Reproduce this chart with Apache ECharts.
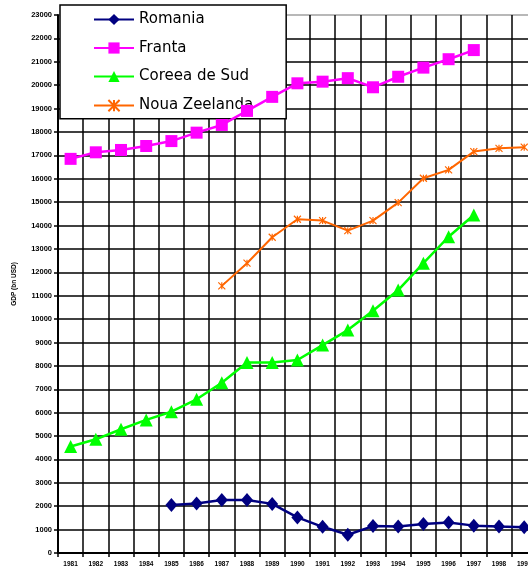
<!DOCTYPE html>
<html>
<head>
<meta charset="utf-8">
<script src="https://cdn.jsdelivr.net/npm/echarts@6/dist/echarts.min.js"></script>
<style>
  html, body { margin: 0; padding: 0; background: #fff; overflow: hidden; }
  #chart { width: 528px; height: 575px; }
</style>
</head>
<body>
<div id="chart"></div>
<script>
// Years on the category axis
const years = ['1981','1982','1983','1984','1985','1986','1987','1988','1989','1990',
               '1991','1992','1993','1994','1995','1996','1997','1998','1999','2000'];

// Y axis ticks (GDP)
const yMin = 0;
const yMax = 23000;
const yStep = 1000;

// Each series starts at its first reported year
const romaniaStart = '1985';
const romania = [2050, 2120, 2270, 2270, 2100, 1520, 1120, 780, 1150, 1130, 1240, 1300, 1170, 1130, 1100];

const frantaStart = '1981';
const franta = [16850, 17130, 17230, 17400, 17610, 17970, 18300, 18900, 19500, 20080, 20150, 20300, 19910, 20360, 20750, 21110, 21500];

const coreeaStart = '1981';
const coreea = [4550, 4860, 5290, 5690, 6040, 6570, 7280, 8140, 8140, 8250, 8890, 9530, 10360, 11240, 12390, 13520, 14450];

const zeelandaStart = '1987';
const zeelanda = [11420, 12390, 13500, 14270, 14210, 13780, 14210, 14980, 16020, 16380, 17160, 17300, 17350];

// Pad a series with nulls so it lines up with the year axis
function alignToYears(start, values) {
  const offset = years.indexOf(start);
  const out = years.map(() => null);
  values.forEach((v, i) => { out[offset + i] = v; });
  return out;
}

// Horizontal grid: black lines, the top border in grey
const nLines = (yMax - yMin) / yStep + 1;
const hLineColors = [];
for (let i = 0; i < nLines; i++) hLineColors.push(i === nLines - 1 ? '#a0a0a0' : '#000');

const chart = echarts.init(document.getElementById('chart'), null, { renderer: 'canvas' });

const tickFont = { fontFamily: 'Liberation Sans, Arial, sans-serif', fontWeight: 'bold', color: '#000' };

chart.setOption({
  backgroundColor: '#fff',
  animation: false,
  // plot area runs past the right edge of the canvas
  grid: { left: 58, top: 15, bottom: 22, width: 504, outerBoundsMode: 'none', containLabel: false },
  legend: {
    orient: 'vertical',
    left: 60,
    top: 5,
    padding: [7, 33, 5, 33],
    itemWidth: 40,
    itemHeight: 14,
    itemGap: 13.5,
    backgroundColor: '#fff',
    borderColor: '#000',
    borderWidth: 1.5,
    textStyle: { fontFamily: 'DejaVu Sans, sans-serif', fontSize: 15, lineHeight: 15, color: '#000' },
    data: ['Romania', 'Franta', 'Coreea de Sud', 'Noua Zeelanda']
  },
  xAxis: {
    type: 'category',
    data: years,
    boundaryGap: true,
    axisLine: { lineStyle: { color: '#000', width: 2 } },
    axisTick: { show: true, inside: false, length: 4, interval: 0, lineStyle: { color: '#000', width: 1.5 } },
    axisLabel: Object.assign({ interval: 0, fontSize: 6.5, margin: 8 }, tickFont),
    splitLine: { show: true, interval: 0, lineStyle: { color: '#000', width: 1.5 } }
  },
  yAxis: {
    type: 'value',
    min: yMin,
    max: yMax,
    interval: yStep,
    name: 'GDP (bn USD)',
    nameLocation: 'middle',
    nameGap: 40,
    nameTextStyle: Object.assign({ fontSize: 6.5 }, tickFont),
    axisLine: { show: true, lineStyle: { color: '#000', width: 2 } },
    axisTick: { show: true, inside: false, length: 4, lineStyle: { color: '#000', width: 1.5 } },
    axisLabel: Object.assign({ fontSize: 7.5, margin: 6, formatter: (v) => String(v) }, tickFont),
    splitLine: { show: true, lineStyle: { color: hLineColors, width: 1.5 } }
  },
  series: [
    {
      name: 'Romania',
      type: 'line',
      data: alignToYears(romaniaStart, romania),
      symbol: 'diamond',
      symbolSize: [12, 14],
      showAllSymbol: true,
      lineStyle: { color: '#000080', width: 2.5 },
      itemStyle: { color: '#000080' },
      z: 5
    },
    {
      name: 'Franta',
      type: 'line',
      data: alignToYears(frantaStart, franta),
      symbol: 'rect',
      symbolSize: 12,
      showAllSymbol: true,
      lineStyle: { color: '#ff00ff', width: 2.5 },
      itemStyle: { color: '#ff00ff' },
      z: 4
    },
    {
      name: 'Coreea de Sud',
      type: 'line',
      data: alignToYears(coreeaStart, coreea),
      symbol: 'triangle',
      symbolSize: [13, 13],
      showAllSymbol: true,
      lineStyle: { color: '#00ff00', width: 2.5 },
      itemStyle: { color: '#00ff00' },
      z: 3
    },
    {
      name: 'Noua Zeelanda',
      type: 'line',
      data: alignToYears(zeelandaStart, zeelanda),
      symbol: 'path://M0,0L10,10M10,0L0,10M5,0L5,10',
      symbolSize: 7,
      showAllSymbol: true,
      lineStyle: { color: '#ff6600', width: 2 },
      itemStyle: { color: 'none', borderColor: '#ff6600', borderWidth: 1.2 },
      z: 3
    }
  ]
});
</script>
</body>
</html>
